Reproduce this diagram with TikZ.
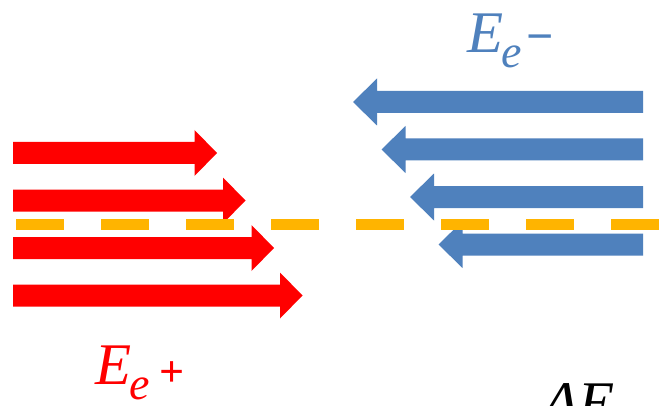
\documentclass[tikz,border=0pt]{standalone}
\usepackage{fontspec}
\newfontfamily\labelfont{Liberation Serif}
\definecolor{posred}{RGB}{255,0,0}
\definecolor{eblue}{RGB}{79,129,189}
\definecolor{beamgold}{RGB}{255,180,0}
\newcommand{\bigsize}{\fontsize{59}{60}\selectfont}
\newcommand{\subsize}{\fontsize{46}{46}\selectfont}
\begin{document}
\begin{tikzpicture}[x=1pt,y=-1pt,
  redarrow/.style={fill=posred},
  bluearrow/.style={fill=eblue},
  beamaxis/.style={draw=beamgold,line width=11pt,dash pattern=on 48pt off 37pt},
  txtlabel/.style={inner sep=0pt,anchor=base west,font=\labelfont\itshape\bigsize}]
\useasboundingbox (0,0) rectangle (663,406);
\clip (0,0) rectangle (663,406);
\fill[white] (0,0) rectangle (663,406);
% positron beam (red, moving right)
\foreach \i in {0,...,3}{
  \pgfmathsetmacro{\cy}{153+47.5*\i}
  \pgfmathsetmacro{\tx}{217+28.5*\i}
  \fill[redarrow] (13,\cy-11) -- (\tx-22.5,\cy-11) -- (\tx-22.5,\cy-23) -- (\tx,\cy)
    -- (\tx-22.5,\cy+23) -- (\tx-22.5,\cy+11) -- (13,\cy+11) -- cycle;
}
% electron beam (blue, moving left)
\foreach \i in {0,...,3}{
  \pgfmathsetmacro{\cy}{102+47.5*\i}
  \pgfmathsetmacro{\tx}{353+28.5*\i}
  \fill[bluearrow] (643,\cy-11) -- (\tx+24,\cy-11) -- (\tx+24,\cy-23.5) -- (\tx,\cy)
    -- (\tx+24,\cy+23.5) -- (\tx+24,\cy+11) -- (643,\cy+11) -- cycle;
}
% beam axis
\coordinate (axisL) at (16,224);
\coordinate (axisR) at (663,224);
\draw[beamaxis] (axisL) -- (axisR);
% labels
\node[txtlabel,text=eblue] (eminus) at (467,53)
  {E\kern-2pt\raisebox{-15pt}{\subsize e}\kern5pt\raisebox{0pt}{\fontsize{48}{48}\selectfont\upshape\bfseries −}};
\node[txtlabel,text=posred] (eplus) at (95,384)
  {E\kern-2pt\raisebox{-15pt}{\subsize e}\kern10pt\raisebox{-2.5pt}{\fontsize{44}{44}\selectfont\upshape\bfseries +}};
\node[txtlabel,text=black] (dcm) at (543,422)
  {Δ\kern1pt E\kern-2pt\raisebox{-15pt}{\subsize CM}};
\end{tikzpicture}
\end{document}
